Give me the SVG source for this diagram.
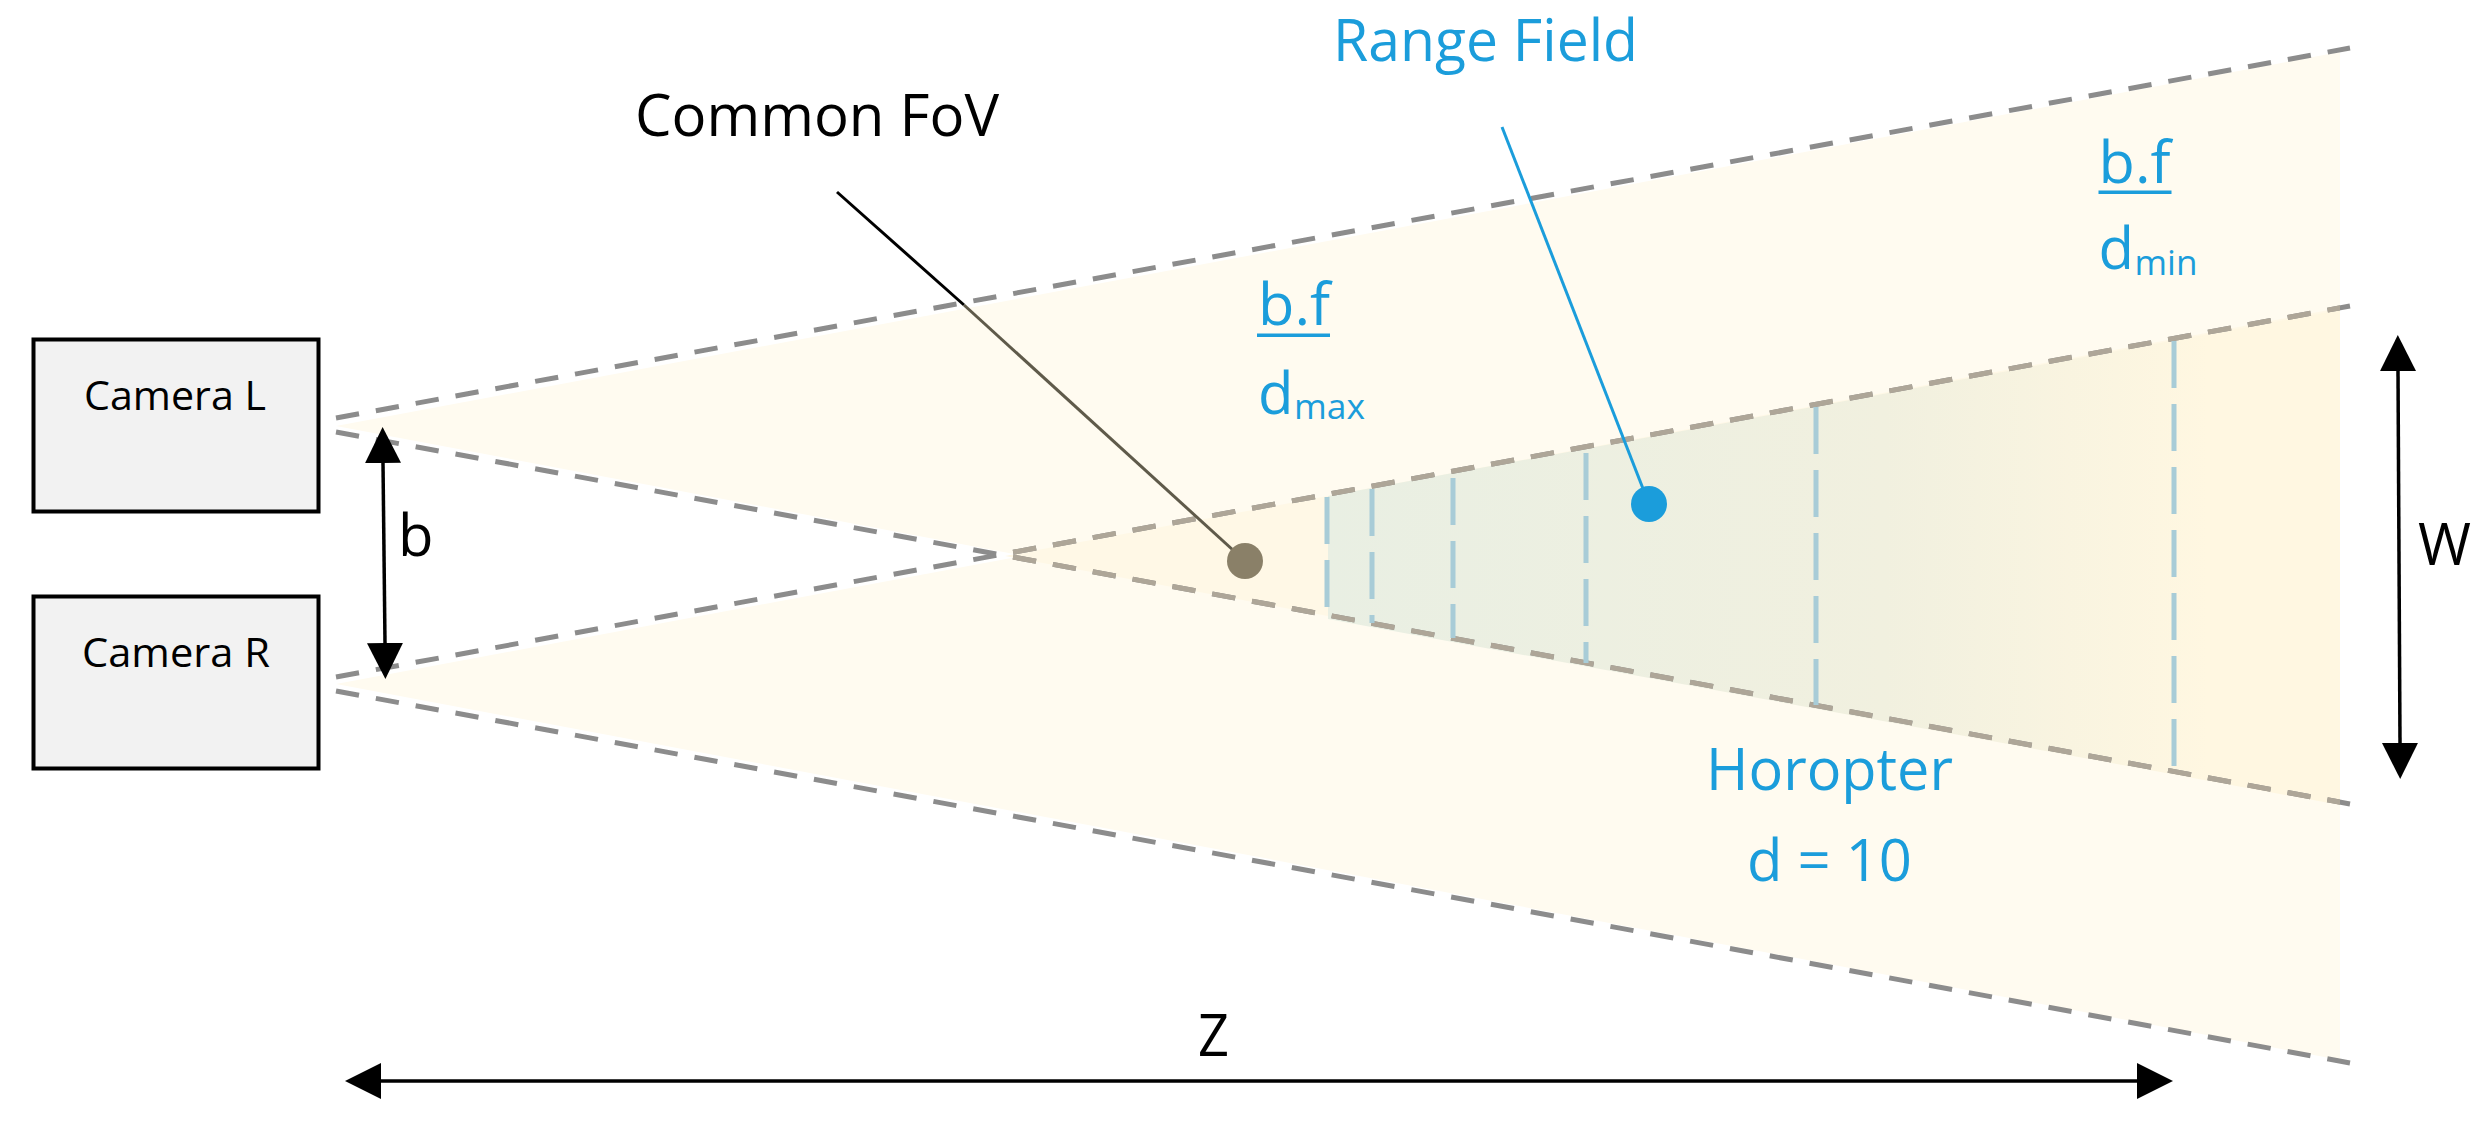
<svg xmlns="http://www.w3.org/2000/svg" width="2484" height="1124" viewBox="0 0 2484 1124">
<style>
text{font-family:"Open Sans","Noto Sans","Liberation Sans",sans-serif;font-size:58px;fill:#000}
.blue{fill:#1b9ddb}
.sub{font-size:34px}
.cam{font-size:41px}
.box{fill:#f2f2f2;stroke:#000;stroke-width:4}
.ray{fill:none;stroke:#8c8c8c;stroke-width:5;stroke-dasharray:23.4 17.1}
.ray.in{stroke:#aea698}
.tick{fill:none;stroke:#a8ccd7;stroke-width:5;stroke-dasharray:47 16}
.arrow{fill:none;stroke:#000;stroke-width:3.5;marker-start:url(#head);marker-end:url(#head)}
</style>
<defs>
<marker id="head" markerUnits="userSpaceOnUse" markerWidth="38" markerHeight="38" refX="0" refY="18" orient="auto-start-reverse" viewBox="0 0 38 36"><path d="M0 0L36 18L0 36z" fill="#000"/></marker>
<linearGradient id="rangeFill" gradientUnits="userSpaceOnUse" x1="1328" y1="0" x2="2340" y2="0">
<stop offset="0" stop-color="#e9efe3"/><stop offset=".55" stop-color="#f1f0df"/><stop offset=".87" stop-color="#fff7e1"/><stop offset="1" stop-color="#fff7e1"/>
</linearGradient>
<clipPath id="overlap"><rect x="1004" y="0" width="1336" height="1124"/></clipPath>
</defs>
<g id="fov">
<polygon points="336,426 2340,52 2340,804" fill="#fffbf0"/>
<polygon points="336,684 2340,310 2340,1060" fill="#fffbf0"/>
<polygon points="1005,556 2340,308 2340,804" fill="#fff8e6"/>
</g>
<g id="range-field">
<polygon points="1328,496 2340,310 2340,805 1328,619" fill="url(#rangeFill)"/>
</g>
<g id="connectors">
<line class="ray" x1="336" y1="418" x2="2350" y2="48"/>
<line class="ray" x1="336" y1="432" x2="2350" y2="804"/>
<line class="ray" x1="336" y1="677" x2="2350" y2="306"/>
<line class="ray" x1="336" y1="691" x2="2350" y2="1063"/>
<g clip-path="url(#overlap)">
<line class="ray in" x1="336" y1="432" x2="2350" y2="804"/>
<line class="ray in" x1="336" y1="677" x2="2350" y2="306"/>
</g>
<line class="tick" x1="1327" y1="497" x2="1327" y2="615"/>
<line class="tick" x1="1372" y1="489" x2="1372" y2="623"/>
<line class="tick" x1="1453" y1="478" x2="1453" y2="638"/>
<line class="tick" x1="1586" y1="453" x2="1586" y2="663"/>
<line class="tick" x1="1816" y1="407" x2="1816" y2="705"/>
<line class="tick" x1="2174" y1="341" x2="2174" y2="771"/>
<line x1="837" y1="192" x2="964" y2="305" stroke="#000" stroke-width="3"/>
<line x1="964" y1="305" x2="1245" y2="561" stroke="#5f5a4a" stroke-width="3"/>
<line x1="1502" y1="127" x2="1649" y2="504" stroke="#1b9ddb" stroke-width="3"/>
<line class="arrow" x1="383" y1="463" x2="385" y2="643"/>
<line class="arrow" x1="2398" y1="371" x2="2400" y2="743"/>
<line class="arrow" x1="381" y1="1081" x2="2137" y2="1081"/>
</g>
<g id="camera-l"><rect class="box" x="33.5" y="339.5" width="285" height="172"/><text class="cam" x="84" y="410" textLength="182" lengthAdjust="spacingAndGlyphs">Camera L</text></g>
<g id="camera-r"><rect class="box" x="33.5" y="596.5" width="285" height="172"/><text class="cam" x="82" y="667" textLength="188" lengthAdjust="spacingAndGlyphs">Camera R</text></g>
<g id="common-fov"><circle cx="1245" cy="561" r="18" fill="#8a8068"/><text x="635" y="136" textLength="364" lengthAdjust="spacingAndGlyphs">Common FoV</text></g>
<g id="range-label"><circle cx="1649" cy="504" r="18" fill="#1b9ddb"/><text class="blue" x="1333" y="61" textLength="305" lengthAdjust="spacingAndGlyphs">Range Field</text></g>
<g id="dmax"><text class="blue" x="1258" y="325" textLength="72" lengthAdjust="spacingAndGlyphs">b.f</text><rect x="1257" y="333.5" width="73" height="3.5" fill="#1b9ddb"/><text class="blue" x="1258" y="414">d</text><text class="blue sub" x="1294" y="419" textLength="71" lengthAdjust="spacingAndGlyphs">max</text></g>
<g id="dmin"><text class="blue" x="2098.5" y="183" textLength="72" lengthAdjust="spacingAndGlyphs">b.f</text><rect x="2098.5" y="190.5" width="73" height="3.5" fill="#1b9ddb"/><text class="blue" x="2098.5" y="269">d</text><text class="blue sub" x="2134.5" y="275" textLength="63" lengthAdjust="spacingAndGlyphs">min</text></g>
<g id="horopter"><text class="blue" x="1706" y="790" textLength="247" lengthAdjust="spacingAndGlyphs">Horopter</text><text class="blue" x="1747" y="881" textLength="165" lengthAdjust="spacingAndGlyphs">d = 10</text></g>
<g id="dim-labels"><text x="398" y="556">b</text><text x="2418" y="565" textLength="53" lengthAdjust="spacingAndGlyphs">W</text><text x="1198" y="1056" textLength="31" lengthAdjust="spacingAndGlyphs">Z</text></g>
</svg>
